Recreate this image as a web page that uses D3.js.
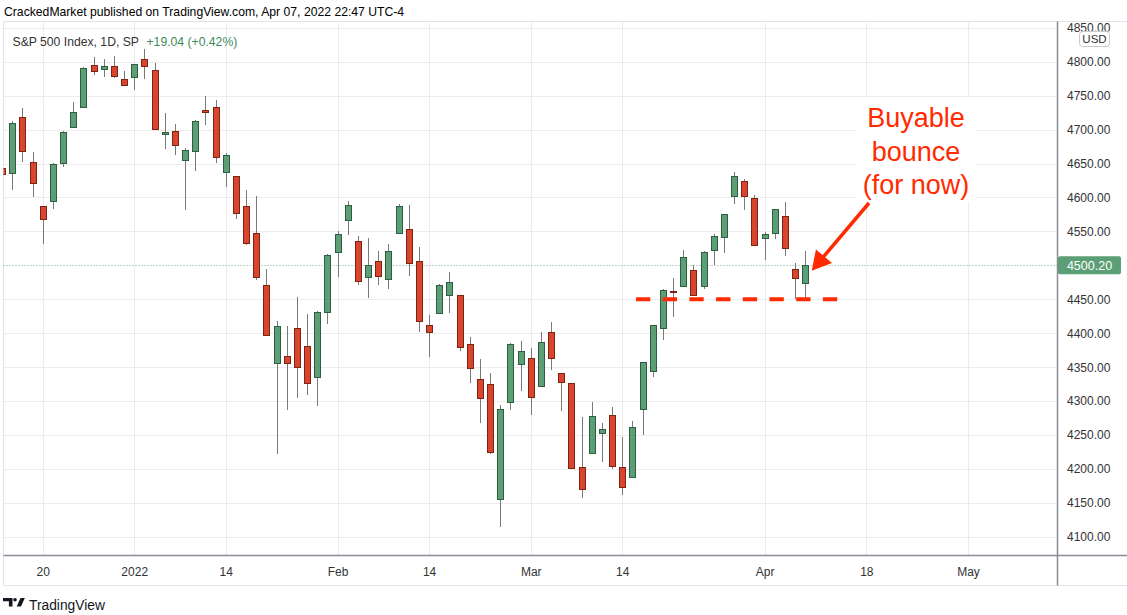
<!DOCTYPE html>
<html><head><meta charset="utf-8">
<script src="https://cdn.jsdelivr.net/npm/d3@7"></script>
<style>
html,body{margin:0;padding:0;background:#fff;}
svg{display:block;font-family:"Liberation Sans",Arial,Helvetica,sans-serif;}
</style></head><body>
<svg id="chart" width="1127" height="615"></svg>
<script>
// ---------- DATA ----------
const tradingDays = [
  "2021-12-14","2021-12-15","2021-12-16","2021-12-17","2021-12-20","2021-12-21","2021-12-22","2021-12-23","2021-12-27","2021-12-28","2021-12-29","2021-12-30","2021-12-31",
  "2022-01-03","2022-01-04","2022-01-05","2022-01-06","2022-01-07","2022-01-10","2022-01-11","2022-01-12","2022-01-13","2022-01-14","2022-01-18","2022-01-19","2022-01-20","2022-01-21","2022-01-24","2022-01-25","2022-01-26","2022-01-27","2022-01-28","2022-01-31",
  "2022-02-01","2022-02-02","2022-02-03","2022-02-04","2022-02-07","2022-02-08","2022-02-09","2022-02-10","2022-02-11","2022-02-14","2022-02-15","2022-02-16","2022-02-17","2022-02-18","2022-02-22","2022-02-23","2022-02-24","2022-02-25","2022-02-28",
  "2022-03-01","2022-03-02","2022-03-03","2022-03-04","2022-03-07","2022-03-08","2022-03-09","2022-03-10","2022-03-11","2022-03-14","2022-03-15","2022-03-16","2022-03-17","2022-03-18","2022-03-21","2022-03-22","2022-03-23","2022-03-24","2022-03-25","2022-03-28","2022-03-29","2022-03-30","2022-03-31",
  "2022-04-01","2022-04-04","2022-04-05","2022-04-06","2022-04-07",
  "2022-04-08","2022-04-11","2022-04-12","2022-04-13","2022-04-14","2022-04-18","2022-04-19","2022-04-20","2022-04-21","2022-04-22","2022-04-25","2022-04-26","2022-04-27","2022-04-28","2022-04-29","2022-05-02"
];
const opens = [4642.99,4636.46,4719.13,4652.50,4587.90,4594.96,4650.36,4703.96,4733.99,4795.49,4788.64,4794.23,4775.21,
  4778.14,4804.51,4787.99,4693.39,4697.66,4655.34,4669.14,4728.59,4733.56,4637.99,4632.24,4588.03,4547.35,4471.38,4356.32,4366.64,4408.43,4380.58,4336.19,4431.79,
  4519.57,4566.39,4535.41,4482.79,4505.75,4480.02,4547.00,4553.24,4506.27,4412.61,4429.28,4455.75,4456.06,4384.57,4332.74,4324.93,4155.77,4298.38,4354.17,
  4363.14,4322.56,4401.31,4342.12,4327.01,4202.66,4223.10,4252.55,4279.50,4202.75,4188.82,4288.14,4345.11,4407.34,4462.40,4469.10,4493.10,4469.98,4522.91,4541.09,4602.86,4624.20,4599.02,
  4540.32,4547.97,4572.45,4494.17,4474.65];
const highs = [4660.47,4712.60,4731.99,4666.70,4587.90,4651.14,4697.67,4740.74,4791.49,4807.02,4804.06,4808.93,4786.83,
  4796.64,4818.62,4797.70,4725.01,4707.95,4673.02,4714.13,4748.83,4744.13,4665.13,4632.24,4611.55,4602.11,4494.52,4417.35,4411.01,4453.23,4428.74,4432.72,4516.89,
  4550.49,4595.31,4542.88,4539.66,4521.86,4531.32,4590.03,4588.92,4526.33,4426.22,4472.77,4489.55,4456.06,4394.60,4362.12,4341.51,4294.73,4385.34,4388.84,
  4378.45,4401.48,4416.78,4342.12,4327.01,4276.94,4299.40,4268.28,4291.01,4247.57,4271.05,4357.86,4412.67,4465.40,4481.75,4522.00,4501.07,4520.58,4546.03,4575.65,4637.30,4627.77,4603.07,
  4548.70,4583.50,4593.45,4503.94,4521.16];
const lows = [4606.52,4611.22,4651.89,4600.22,4531.10,4583.16,4645.53,4703.96,4733.99,4780.04,4778.08,4775.33,4765.75,
  4758.17,4774.27,4699.44,4671.26,4662.74,4582.24,4638.27,4706.71,4650.29,4614.75,4568.70,4530.20,4477.95,4395.34,4222.62,4287.11,4304.80,4309.50,4292.46,4414.02,
  4483.53,4544.32,4470.39,4451.50,4471.47,4465.40,4547.00,4484.31,4401.41,4364.84,4429.28,4429.68,4373.81,4327.22,4267.11,4221.51,4114.65,4286.83,4315.12,
  4279.54,4322.56,4345.56,4284.98,4199.85,4157.87,4223.10,4209.80,4200.49,4161.72,4187.90,4249.65,4335.65,4390.57,4424.30,4469.10,4455.81,4465.17,4501.07,4517.69,4589.66,4581.32,4530.41,
  4507.57,4539.21,4514.17,4450.04,4450.30];
const closes = [4634.09,4709.85,4668.67,4620.64,4568.02,4649.23,4696.56,4725.79,4791.19,4786.35,4793.06,4778.73,4766.18,
  4796.56,4793.54,4700.58,4696.05,4677.03,4670.29,4713.07,4726.35,4659.03,4662.85,4577.11,4532.76,4482.73,4397.94,4410.13,4356.45,4349.93,4326.51,4431.85,4515.55,
  4546.54,4589.38,4477.44,4500.53,4483.87,4521.54,4587.18,4504.08,4418.64,4401.67,4471.07,4475.01,4380.26,4348.87,4304.76,4225.50,4288.70,4384.65,4373.94,
  4306.26,4386.54,4363.49,4328.87,4201.09,4170.70,4277.88,4259.52,4204.31,4173.11,4262.45,4357.86,4411.67,4463.12,4461.18,4511.61,4456.24,4520.16,4543.06,4575.52,4631.60,4602.45,4530.41,
  4545.86,4582.64,4525.12,4481.15,4500.21];
const xTickDates = ["2021-12-20","2022-01-03","2022-01-14","2022-02-01","2022-02-14","2022-03-01","2022-03-14","2022-04-01","2022-04-18","2022-05-02"];
const xTickLabels = ["20","2022","14","Feb","14","Mar","14","Apr","18","May"];
const yTicks = [4100,4150,4200,4250,4300,4350,4400,4450,4500,4550,4600,4650,4700,4750,4800,4850];
const lastPrice = 4500.20;
const lastPriceLabel = "4500.20";
const supportLevel = 4450;
const titleText = "CrackedMarket published on TradingView.com, Apr 07, 2022 22:47 UTC-4";
const symbolText = "S&P 500 Index, 1D, SP";
const changeText = "+19.04 (+0.42%)";
const noteLines = ["Buyable","bounce","(for now)"];

// ---------- LAYOUT / STYLE ----------
const L = 3.5, T = 21.5, R = 1057.5, B = 555.5, FB = 585.5, W = 1127;
const upFill = "#5c9f76", upStroke = "#2f5d40", dnFill = "#d9442c", dnStroke = "#7d2416", wickCol = "#7a7a7a";
const gridCol = "#ececec", axisCol = "#8a8d96", red = "#ff2a00", textCol = "#131722";

const svg = d3.select("#chart");
const idx = d => tradingDays.indexOf(d);
const x = d3.scaleLinear().domain([idx("2021-12-20"), idx("2022-05-02")]).range([42.7, 968]);
const y = d3.scaleLinear().domain([4100, 4800]).range([536.9, 61.7]);

const defs = svg.append("defs");
defs.append("clipPath").attr("id","plotClip").append("rect").attr("x",L).attr("y",T).attr("width",R-L).attr("height",B-T);
defs.append("clipPath").attr("id","axisClip").append("rect").attr("x",R).attr("y",T).attr("width",W-R).attr("height",B-T);

// header
svg.append("text").attr("x",4).attr("y",15.5).attr("font-size",12.2).attr("fill","#000").text(titleText);

// frame
svg.append("line").attr("x1",L).attr("x2",W).attr("y1",T).attr("y2",T).attr("stroke","#e0e3eb");
svg.append("line").attr("x1",L).attr("x2",W).attr("y1",FB).attr("y2",FB).attr("stroke","#e0e3eb");
svg.append("line").attr("x1",L).attr("x2",L).attr("y1",T).attr("y2",FB).attr("stroke","#e0e3eb");

// grid
const grid = svg.append("g");
grid.selectAll(".hg").data(yTicks.filter(v => v !== 4500)).join("line")
  .attr("x1",L).attr("x2",R).attr("y1",d=>Math.round(y(d))+0.5).attr("y2",d=>Math.round(y(d))+0.5)
  .attr("stroke",gridCol).attr("clip-path","url(#plotClip)");
grid.selectAll(".vg").data(xTickDates).join("line")
  .attr("x1",d=>Math.round(x(idx(d)))+0.5).attr("x2",d=>Math.round(x(idx(d)))+0.5).attr("y1",T).attr("y2",B)
  .attr("stroke",gridCol);

// last price dotted line
svg.append("line").attr("x1",L).attr("x2",R).attr("y1",Math.round(y(lastPrice))+0.5).attr("y2",Math.round(y(lastPrice))+0.5)
  .attr("stroke",upFill).attr("stroke-dasharray","1,2").attr("opacity",0.8);

// annotation text box (white background hides grid)
svg.append("rect").attr("x",856).attr("y",97).attr("width",120).attr("height",105).attr("fill","#fff");

// candles
const candles = [];
for (let i = 0; i < opens.length; i++) candles.push({i, o:opens[i], h:highs[i], l:lows[i], c:closes[i]});
const cg = svg.append("g").attr("clip-path","url(#plotClip)");
cg.selectAll(".wick").data(candles).join("line")
  .attr("x1",d=>Math.round(x(d.i))+0.5).attr("x2",d=>Math.round(x(d.i))+0.5)
  .attr("y1",d=>Math.round(y(d.h))).attr("y2",d=>Math.round(y(d.l)))
  .attr("stroke",wickCol).attr("stroke-width",1);
cg.selectAll(".body").data(candles).join("rect")
  .attr("x",d=>Math.round(x(d.i))-2.5).attr("width",6)
  .attr("y",d=>Math.round(y(Math.max(d.o,d.c)))+0.5)
  .attr("height",d=>Math.max(1, Math.round(y(Math.min(d.o,d.c))) - Math.round(y(Math.max(d.o,d.c)))))
  .attr("fill",d=>d.c>=d.o?upFill:dnFill).attr("stroke",d=>d.c>=d.o?upStroke:dnStroke).attr("stroke-width",1);

// axes lines
svg.append("line").attr("x1",L).attr("x2",W).attr("y1",B).attr("y2",B).attr("stroke",axisCol).attr("stroke-width",1.5);
svg.append("line").attr("x1",R).attr("x2",R).attr("y1",T).attr("y2",FB).attr("stroke",axisCol).attr("stroke-width",1.5);

// y axis (price)
const yAxis = d3.axisRight(y).tickValues(yTicks.filter(v => v !== 4500)).tickFormat(d3.format(".2f")).tickSize(0).tickPadding(9.5);
const yg = svg.append("g").attr("clip-path","url(#axisClip)")
  .append("g").attr("transform",`translate(${R},0)`).call(yAxis);
yg.select(".domain").remove();
yg.selectAll("text").attr("font-family","Liberation Sans, Arial, sans-serif").attr("font-size",12).attr("fill","#333");

// x axis
const xAxis = d3.axisBottom(x).tickValues(xTickDates.map(idx)).tickFormat((d,k)=>xTickLabels[k]).tickSize(0).tickPadding(12);
const xg = svg.append("g").attr("transform",`translate(0,${B})`).call(xAxis);
xg.select(".domain").remove();
xg.selectAll("text").attr("font-family","Liberation Sans, Arial, sans-serif").attr("font-size",12).attr("fill","#333");

// USD badge
svg.append("rect").attr("x",1079.5).attr("y",31.5).attr("width",30).attr("height",15).attr("rx",3)
  .attr("fill","#fff").attr("stroke","#c8cbd3");
svg.append("text").attr("x",1094.5).attr("y",43).attr("text-anchor","middle").attr("font-size",11.5).attr("fill","#333").text("USD");

// last price label
svg.append("rect").attr("x",1058).attr("y",y(lastPrice)-9).attr("width",63).attr("height",18).attr("rx",2).attr("fill",upFill);
svg.append("text").attr("x",1089.5).attr("y",y(lastPrice)+4.3).attr("text-anchor","middle").attr("font-size",12.5)
  .attr("fill","#fff").text(lastPriceLabel);

// legend
const leg = svg.append("text").attr("x",12.5).attr("y",46).attr("font-size",12.2);
leg.append("tspan").attr("fill","#333").text(symbolText);
leg.append("tspan").attr("x",146.5).attr("fill","#3e8a5c").text(changeText);

// support dashed line
svg.append("line").attr("x1",636).attr("x2",840).attr("y1",y(supportLevel)).attr("y2",y(supportLevel))
  .attr("stroke",red).attr("stroke-width",4).attr("stroke-dasharray","14.3,12.4");

// arrow
const tip = [811.7, 270.7], start = [869, 203];
const dx = tip[0]-start[0], dy = tip[1]-start[1], len = Math.hypot(dx,dy), ux = dx/len, uy = dy/len;
const hl = 19, hw = 10.5;
const bc = [tip[0]-ux*hl, tip[1]-uy*hl];
svg.append("line").attr("x1",start[0]).attr("y1",start[1]).attr("x2",bc[0]+ux*2).attr("y2",bc[1]+uy*2)
  .attr("stroke",red).attr("stroke-width",3.5);
svg.append("path").attr("d",`M${tip[0]},${tip[1]}L${bc[0]-uy*hw},${bc[1]+ux*hw}L${bc[0]+uy*hw},${bc[1]-ux*hw}Z`).attr("fill",red);

// note text
svg.selectAll(".note").data(noteLines).join("text")
  .attr("x",916).attr("y",(d,k)=>126.8+k*33.7).attr("text-anchor","middle").attr("font-size",27).attr("fill",red).text(d=>d);

// TradingView logo
const logo = svg.append("g").attr("fill","#131722");
logo.append("path").attr("d","M3,598h9.5v8.5h-3.6v-5.2H3z");
logo.append("circle").attr("cx",15).attr("cy",599.8).attr("r",1.8);
logo.append("path").attr("d","M20.5,598h4.3l-3.8,8.5h-4.3z");
svg.append("text").attr("x",29).attr("y",609.5).attr("font-size",13.8).attr("fill","#131722").text("TradingView");
</script>
</body></html>
